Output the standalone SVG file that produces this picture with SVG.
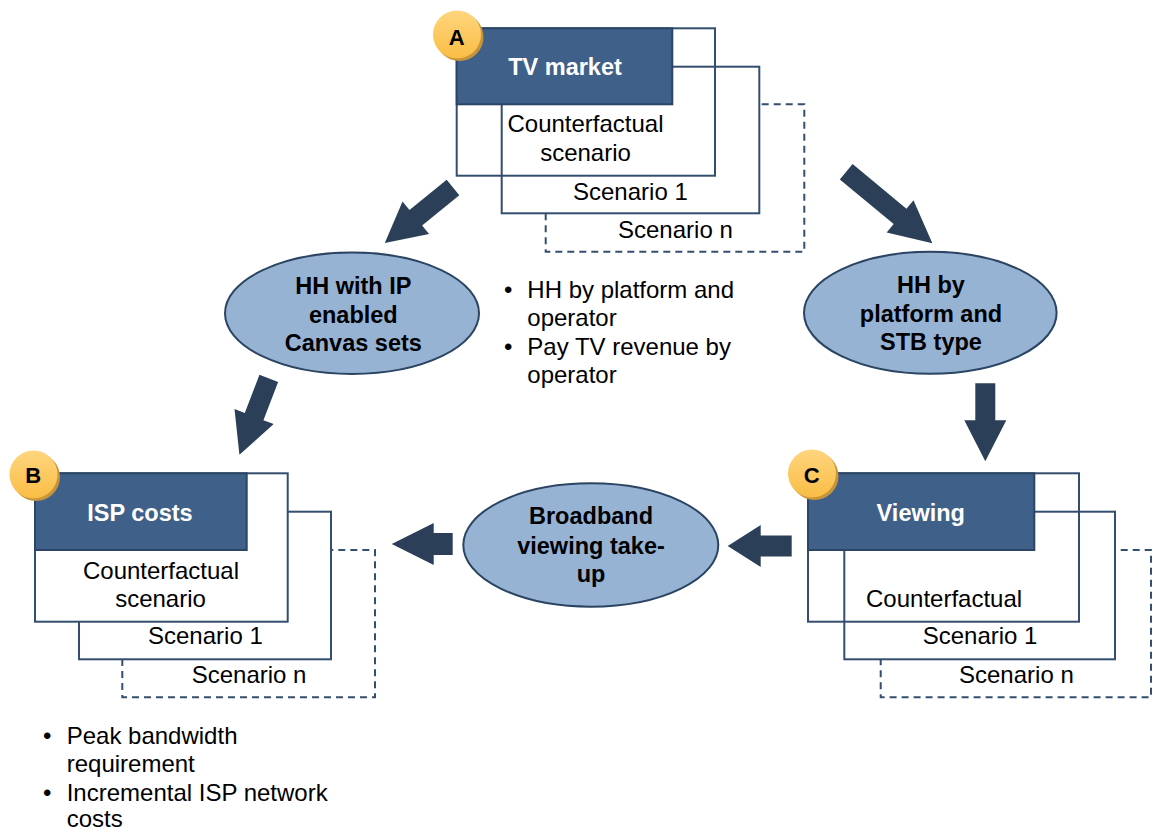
<svg xmlns="http://www.w3.org/2000/svg" width="1153" height="832" viewBox="0 0 1153 832">
  <defs>
    <linearGradient id="badgeFill" x1="0" y1="0" x2="0" y2="1">
      <stop offset="0" stop-color="#ffd57e"/>
      <stop offset="1" stop-color="#f9bd45"/>
    </linearGradient>
    <style>
      text { font-family: "Liberation Sans", Arial, sans-serif; font-size: 24px; fill: #000; }
      .hdr-text { font-weight: bold; fill: #ffffff; text-anchor: middle; font-size: 23.5px; }
      .bold { font-weight: bold; text-anchor: middle; font-size: 23.5px; }
      .mid { text-anchor: middle; }
      .badge-text { font-weight: bold; font-size: 22px; text-anchor: middle; }
      .frame { fill: #ffffff; stroke: #334e6e; stroke-width: 2; }
      .frame-open { fill: none; stroke: #334e6e; stroke-width: 2; }
      .dashed { fill: #ffffff; stroke: #334e6e; stroke-width: 2; stroke-dasharray: 7 5; }
      .hdr { fill: #3f6089; stroke: #2c4565; stroke-width: 2; }
      .oval { fill: #96b3d4; stroke: #2a4461; stroke-width: 2; }
      .arrow { fill: #2b4058; }
      .badge { fill: url(#badgeFill); }
      .badge-shadow { fill: #c8943a; }
    </style>
  </defs>
  <rect width="1153" height="832" fill="#ffffff"/>

  <!-- Connectors: block arrows -->
  <g id="connectors">
    <polygon class="arrow" transform="translate(453,187.5) rotate(140.8)" points="0,-10 48,-10 48,-21 88,0 48,21 48,10 0,10"/>
    <polygon class="arrow" transform="translate(268.8,378.3) rotate(111)" points="0,-10 41,-10 41,-21 82,0 41,21 41,10 0,10"/>
    <polygon class="arrow" transform="translate(846.2,171.7) rotate(39.7)" points="0,-10 70,-10 70,-21 112,0 70,21 70,10 0,10"/>
    <polygon class="arrow" transform="translate(985.3,383.3) rotate(90)" points="0,-10 37,-10 37,-21 78,0 37,21 37,10 0,10"/>
    <polygon class="arrow" transform="translate(791.7,546) rotate(180)" points="0,-10.5 31,-10.5 31,-21 64,0 31,21 31,10.5 0,10.5"/>
    <polygon class="arrow" transform="translate(452.7,544) rotate(180)" points="0,-11 19,-11 19,-21 61,0 19,21 19,11 0,11"/>
  </g>

  <!-- A: TV market -->
  <g id="node-tv-market">
    <rect class="dashed" x="545.7" y="104.3" width="258.6" height="147.4"/>
    <rect class="frame" x="501.7" y="66.7" width="257.6" height="146.6"/>
    <rect class="frame-open" x="456.7" y="28.3" width="258.3" height="147.4"/>
    <rect class="hdr" x="456.7" y="28.3" width="215.6" height="76"/>
    <text class="hdr-text" x="565" y="75">TV market</text>
    <text class="mid" x="585.5" y="132">Counterfactual</text>
    <text class="mid" x="585.5" y="161">scenario</text>
    <text x="573" y="200">Scenario 1</text>
    <text x="618" y="238">Scenario n</text>
    <circle class="badge-shadow" cx="459.5" cy="37" r="24"/>
    <circle class="badge" cx="457" cy="34.5" r="24"/>
    <text class="badge-text" x="456.7" y="44.5">A</text>
  </g>

  <!-- B: ISP costs -->
  <g id="node-isp-costs">
    <rect class="dashed" x="122.3" y="550" width="252.7" height="147.3"/>
    <rect class="frame" x="79" y="511.7" width="252" height="147.6"/>
    <rect class="frame" x="35" y="473.3" width="252.7" height="148.4"/>
    <rect class="hdr" x="35" y="473.3" width="211.7" height="76.7"/>
    <text class="hdr-text" x="140" y="521">ISP costs</text>
    <text class="mid" x="161" y="578.5">Counterfactual</text>
    <text class="mid" x="160.5" y="607">scenario</text>
    <text x="148" y="644">Scenario 1</text>
    <text x="191.7" y="683">Scenario n</text>
    <circle class="badge-shadow" cx="36" cy="477" r="24"/>
    <circle class="badge" cx="33.5" cy="474.5" r="24"/>
    <text class="badge-text" x="33.3" y="482.7">B</text>
  </g>

  <!-- C: Viewing -->
  <g id="node-viewing">
    <rect class="dashed" x="880.7" y="550" width="270.3" height="147.3"/>
    <rect class="frame" x="844.3" y="511.7" width="270.7" height="147.6"/>
    <rect class="frame-open" x="808" y="473.3" width="271" height="148.4"/>
    <rect class="hdr" x="808" y="473.3" width="226.3" height="76.7"/>
    <text class="hdr-text" x="920.8" y="521">Viewing</text>
    <text x="866" y="607">Counterfactual</text>
    <text x="922.7" y="644">Scenario 1</text>
    <text x="959" y="683">Scenario n</text>
    <circle class="badge-shadow" cx="814.5" cy="476" r="24"/>
    <circle class="badge" cx="812" cy="473.5" r="24"/>
    <text class="badge-text" x="811.7" y="483.3">C</text>
  </g>

  <!-- Ellipse: HH with IP enabled Canvas sets -->
  <g id="node-hh-ip">
    <ellipse class="oval" cx="352" cy="313.3" rx="127" ry="60.7"/>
    <text class="bold" x="353.3" y="294">HH with IP</text>
    <text class="bold" x="353.3" y="322.7">enabled</text>
    <text class="bold" x="353.3" y="351">Canvas sets</text>
  </g>

  <!-- Ellipse: HH by platform and STB type -->
  <g id="node-hh-platform">
    <ellipse class="oval" cx="930.3" cy="312.8" rx="126.3" ry="61"/>
    <text class="bold" x="931" y="293.3">HH by</text>
    <text class="bold" x="931" y="322.3">platform and</text>
    <text class="bold" x="931" y="350">STB type</text>
  </g>

  <!-- Ellipse: Broadband viewing take-up -->
  <g id="node-broadband">
    <ellipse class="oval" cx="590.8" cy="545" rx="127.5" ry="61.7"/>
    <text class="bold" x="591" y="524.3">Broadband</text>
    <text class="bold" x="591" y="554.3">viewing take-</text>
    <text class="bold" x="591" y="581.7">up</text>
  </g>

  <!-- Bullet notes -->
  <g id="notes-tv-market">
    <text x="504" y="297.5">•</text>
    <text x="527.3" y="297.5">HH by platform and</text>
    <text x="527.3" y="326">operator</text>
    <text x="504" y="354.5">•</text>
    <text x="527.3" y="354.5">Pay TV revenue by</text>
    <text x="527.3" y="383">operator</text>
  </g>
  <g id="notes-isp">
    <text x="43" y="743.5">•</text>
    <text x="66.7" y="743.5">Peak bandwidth</text>
    <text x="66.7" y="772">requirement</text>
    <text x="43" y="800.5">•</text>
    <text x="66.7" y="800.5">Incremental ISP network</text>
    <text x="66.7" y="827">costs</text>
  </g>
</svg>
